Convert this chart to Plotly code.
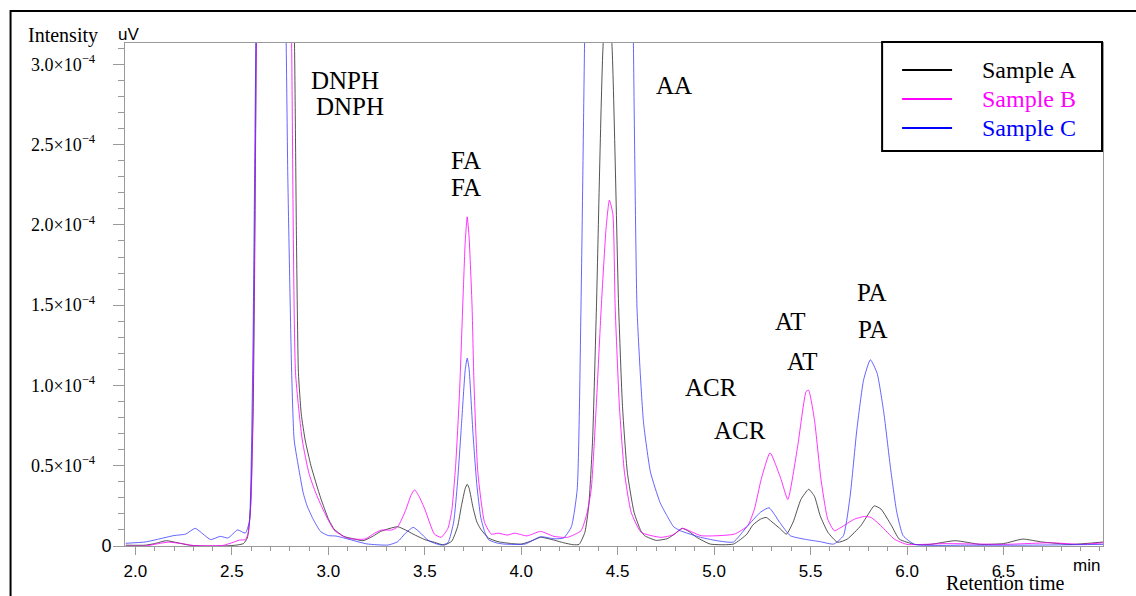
import plotly.graph_objects as go

# ---------------- data (intensity in units of 1e-4 uV) ----------------
time_a = [1.95, 2.05, 2.10, 2.16, 2.22, 2.28, 2.35, 2.45, 2.52, 2.56, 2.58, 2.595, 2.61, 2.62, 2.63, 2.66, 2.72, 2.78, 2.81, 2.825,
          2.835, 2.845, 2.86, 2.88, 2.91, 2.96, 3.00, 3.03, 3.08, 3.13, 3.18, 3.23, 3.27, 3.32, 3.36, 3.40, 3.44, 3.50, 3.55, 3.60,
          3.64, 3.67, 3.69, 3.71, 3.72, 3.73, 3.75, 3.77, 3.79, 3.83, 3.88, 3.95, 4.00, 4.05, 4.10, 4.16, 4.22, 4.27, 4.30, 4.33,
          4.35, 4.37, 4.39, 4.425, 4.448, 4.47, 4.505, 4.525, 4.55, 4.585, 4.62, 4.64, 4.70, 4.76, 4.80, 4.835, 4.87, 4.91, 4.98, 5.10,
          5.17, 5.20, 5.24, 5.27, 5.30, 5.34, 5.375, 5.41, 5.45, 5.49, 5.52, 5.55, 5.59, 5.64, 5.69, 5.76, 5.80, 5.83, 5.865, 5.92,
          5.96, 6.04, 6.12, 6.25, 6.38, 6.50, 6.60, 6.70, 6.85, 7.02]
int_a = [0.005, 0.005, 0.015, 0.033, 0.02, 0.005, 0.0, 0.0, 0.005, 0.015, 0.05, 0.2, 0.8, 2.0, 3.6, 5.5, 6.5, 5.5, 4.0, 3.1,
         1.9, 1.08, 0.82, 0.66, 0.5, 0.3, 0.17, 0.105, 0.06, 0.045, 0.033, 0.06, 0.09, 0.11, 0.12, 0.1, 0.074, 0.04, 0.023, 0.006,
         0.03, 0.12, 0.25, 0.36, 0.384, 0.36, 0.24, 0.15, 0.105, 0.05, 0.027, 0.015, 0.012, 0.03, 0.054, 0.04, 0.02, 0.008, 0.01, 0.085,
         0.25, 0.66, 1.49, 3.13, 3.4, 3.13, 1.49, 0.87, 0.46, 0.21, 0.095, 0.064, 0.035, 0.047, 0.08, 0.11, 0.09, 0.054, 0.012, 0.012,
         0.074, 0.13, 0.167, 0.178, 0.15, 0.11, 0.074, 0.15, 0.29, 0.353, 0.31, 0.188, 0.085, 0.023, 0.043, 0.126, 0.2, 0.25, 0.23, 0.126,
         0.043, 0.01, 0.01, 0.033, 0.01, 0.015, 0.043, 0.025, 0.01, 0.025]

time_b = [1.95, 2.05, 2.12, 2.17, 2.24, 2.30, 2.45, 2.50, 2.54, 2.57, 2.585, 2.60, 2.61, 2.62, 2.63, 2.66, 2.72, 2.78, 2.80, 2.81,
          2.83, 2.865, 2.90, 2.935, 2.96, 3.00, 3.033, 3.10, 3.19, 3.24, 3.275, 3.33, 3.36, 3.40, 3.43, 3.447, 3.47, 3.50, 3.55, 3.585,
          3.62, 3.64, 3.66, 3.68, 3.70, 3.71, 3.72, 3.73, 3.745, 3.755, 3.775, 3.81, 3.845, 3.88, 3.93, 3.965, 4.03, 4.10, 4.17, 4.24,
          4.31, 4.34, 4.363, 4.389, 4.415, 4.44, 4.457, 4.475, 4.487, 4.509, 4.535, 4.57, 4.622, 4.725, 4.79, 4.835, 4.933, 5.105, 5.174, 5.209,
          5.244, 5.29, 5.347, 5.382, 5.433, 5.477, 5.49, 5.52, 5.554, 5.589, 5.623, 5.658, 5.727, 5.779, 5.813, 5.865, 5.934, 6.00, 6.20, 6.50,
          6.75, 6.90, 7.02]
int_b = [0.0, 0.0, 0.015, 0.024, 0.015, 0.003, 0.003, 0.02, 0.037, 0.04, 0.08, 0.3, 1.0, 2.2, 3.5, 5.5, 6.5, 5.0, 3.8, 3.1,
         1.08, 0.66, 0.45, 0.33, 0.26, 0.16, 0.095, 0.048, 0.043, 0.08, 0.099, 0.10, 0.12, 0.22, 0.32, 0.35, 0.31, 0.23, 0.074, 0.054,
         0.11, 0.22, 0.5, 0.95, 1.6, 1.9, 2.05, 1.92, 1.5, 1.02, 0.46, 0.147, 0.074, 0.08, 0.068, 0.08, 0.063, 0.091, 0.06, 0.054,
         0.095, 0.2, 0.353, 0.87, 1.49, 1.98, 2.154, 2.07, 1.49, 0.87, 0.46, 0.21, 0.085, 0.054, 0.07, 0.11, 0.064, 0.074, 0.126, 0.23,
         0.415, 0.58, 0.415, 0.29, 0.62, 0.962, 0.97, 0.787, 0.415, 0.167, 0.095, 0.116, 0.167, 0.184, 0.178, 0.126, 0.043, 0.01, 0.015, 0.01,
         0.02, 0.01, 0.02]

time_c = [1.95, 2.05, 2.12, 2.20, 2.26, 2.31, 2.35, 2.39, 2.44, 2.48, 2.53, 2.57, 2.59, 2.60, 2.61, 2.62, 2.63, 2.66, 2.70, 2.74,
          2.765, 2.782, 2.79, 2.81, 2.823, 2.85, 2.87, 2.89, 2.92, 2.96, 3.00, 3.04, 3.10, 3.20, 3.31, 3.36, 3.40, 3.44, 3.47, 3.52,
          3.585, 3.62, 3.65, 3.67, 3.69, 3.71, 3.72, 3.73, 3.75, 3.77, 3.79, 3.81, 3.83, 3.87, 3.91, 4.02, 4.10, 4.17, 4.22, 4.26,
          4.29, 4.31, 4.328, 4.36, 4.46, 4.56, 4.582, 4.60, 4.617, 4.634, 4.67, 4.72, 4.755, 4.79, 4.825, 4.93, 5.03, 5.10, 5.17, 5.24,
          5.285, 5.34, 5.395, 5.48, 5.55, 5.62, 5.67, 5.705, 5.74, 5.775, 5.81, 5.845, 5.88, 5.913, 5.947, 5.98, 6.04, 6.30, 6.60, 7.02]
int_c = [0.017, 0.025, 0.043, 0.065, 0.074, 0.11, 0.075, 0.04, 0.06, 0.05, 0.10, 0.08, 0.15, 0.5, 1.3, 2.6, 3.8, 6.0, 7.0, 6.0,
         4.5, 3.1, 2.3, 1.08, 0.66, 0.46, 0.33, 0.25, 0.17, 0.09, 0.065, 0.062, 0.044, 0.013, 0.006, 0.027, 0.08, 0.116, 0.09, 0.033,
         0.006, 0.02, 0.15, 0.4, 0.75, 1.1, 1.17, 1.1, 0.7, 0.38, 0.18, 0.09, 0.04, 0.02, 0.012, 0.012, 0.058, 0.045, 0.05, 0.12,
         0.35, 1.5, 3.1, 6.0, 8.0, 6.0, 3.1, 1.49, 1.08, 0.77, 0.46, 0.27, 0.19, 0.12, 0.095, 0.054, 0.03, 0.025, 0.12, 0.21,
         0.238, 0.147, 0.064, 0.04, 0.027, 0.012, 0.064, 0.31, 0.725, 1.035, 1.16, 1.076, 0.828, 0.5, 0.21, 0.064, 0.01, 0.005, 0.005, 0.01]

series_names = ["Sample A", "Sample B", "Sample C"]
peak_labels = ["DNPH", "DNPH", "FA", "FA", "AA", "ACR", "ACR", "AT", "AT", "PA", "PA"]
x_tick_vals = [2.0, 2.5, 3.0, 3.5, 4.0, 4.5, 5.0, 5.5, 6.0, 6.5]
x_tick_text = ["2.0", "2.5", "3.0", "3.5", "4.0", "4.5", "5.0", "5.5", "6.0", "6.5"]
y_tick_vals = [0, 0.5, 1.0, 1.5, 2.0, 2.5, 3.0]
y_tick_text = ["<span style='font-family:Liberation Sans'>0</span>"] + [
    f"{v:.1f}×10<sup>−4</sup>&#8194;&#8201;&#8201;" for v in y_tick_vals[1:]]

SCALE = 1e-4
colors = ["#000000", "#ff00ff", "#0000ff"]
line_colors = ["rgba(40,40,40,0.8)", "rgba(255,0,255,0.8)", "rgba(50,50,255,0.75)"]

# label positions (time, intensity in 1e-4)
label_pos = [(3.088, 2.897), (3.114, 2.735), (3.715, 2.40), (3.715, 2.23), (4.793, 2.866),
             (4.984, 0.986), (5.135, 0.719), (5.394, 1.397), (5.456, 1.148), (5.819, 1.577), (5.824, 1.347)]

fig = go.Figure()
for name, t, v, lc in zip(series_names, [time_a, time_b, time_c], [int_a, int_b, int_c], line_colors):
    fig.add_trace(go.Scatter(x=t, y=[val * SCALE for val in v], mode="lines", name=name,
                             line=dict(color=lc, width=1, shape="spline", smoothing=0.5),
                             showlegend=False, hoverinfo="skip"))

for txt, (tx, ty) in zip(peak_labels, label_pos):
    fig.add_annotation(x=tx, y=ty * SCALE, text=txt, showarrow=False, xref="x", yref="y",
                       xanchor="center", yanchor="middle",
                       font=dict(family="Liberation Serif", size=25, color="black"))


def px_x(px):
    return (px - 124.5) / 978.5


def px_y(py):
    return (546.5 - py) / 503.5


def paper_text(px, py, text, family, size, color="black", xanchor="center", yanchor="middle"):
    fig.add_annotation(x=px_x(px), y=px_y(py), xref="paper", yref="paper", text=text, showarrow=False,
                       xanchor=xanchor, yanchor=yanchor,
                       font=dict(family=family, size=size, color=color))


# axis titles / units
paper_text(25, 22, "Intensity", "Liberation Serif", 20, xanchor="left", yanchor="top")
paper_text(115, 23, "uV", "Liberation Sans", 17, xanchor="left", yanchor="top")
paper_text(1066, 597, "Retention time", "Liberation Serif", 20, xanchor="right", yanchor="bottom")
paper_text(1102, 578, "min", "Liberation Sans", 17, xanchor="right", yanchor="bottom")

# legend box
fig.add_shape(type="rect", xref="paper", yref="paper", x0=px_x(882), y0=px_y(151), x1=px_x(1102), y1=px_y(42),
              line=dict(color="black", width=2), layer="above")
for i, (name, c) in enumerate(zip(series_names, colors)):
    row_y = 70 + 29 * i
    fig.add_shape(type="line", xref="paper", yref="paper", x0=px_x(902), x1=px_x(952), y0=px_y(row_y), y1=px_y(row_y),
                  line=dict(color=c, width=2), layer="above")
    paper_text(980, row_y, name, "Liberation Serif", 24, color=c, xanchor="left")

# outer frame
fig.add_shape(type="rect", xref="paper", yref="paper", x0=px_x(10), y0=px_y(640), x1=px_x(1180), y1=px_y(11),
              line=dict(color="black", width=2), layer="above")

fig.update_xaxes(range=[1.946, 7.016], tickmode="array", tickvals=x_tick_vals,
                 ticktext=x_tick_text,
                 showline=True, linecolor="#9a9a9a", linewidth=1, mirror=True,
                 ticks="outside", ticklen=8, tickcolor="#9a9a9a", tickwidth=1,
                 minor=dict(tickmode="linear", tick0=0, dtick=0.1, ticks="outside", ticklen=4, tickcolor="#9a9a9a"),
                 showgrid=False, zeroline=False, ticklabelstandoff=2,
                 tickfont=dict(family="Liberation Sans", size=17, color="black"))
fig.update_yaxes(range=[0, 3.133e-4], tickmode="array", tickvals=[v * SCALE for v in y_tick_vals],
                 ticktext=y_tick_text,
                 showline=True, linecolor="#9a9a9a", linewidth=1, mirror=True,
                 ticks="outside", ticklen=11, tickcolor="#9a9a9a", tickwidth=1,
                 minor=dict(tickmode="linear", tick0=0, dtick=0.1e-4, ticks="outside", ticklen=6, tickcolor="#9a9a9a"),
                 showgrid=False, zeroline=False,
                 tickfont=dict(family="Liberation Serif", size=18, color="black"), ticklabelstandoff=-2)

fig.update_layout(width=1136, height=596, margin=dict(l=124.5, r=33, t=43, b=49.5),
                  paper_bgcolor="white", plot_bgcolor="white", showlegend=False)

fig.write_html("out.html")
